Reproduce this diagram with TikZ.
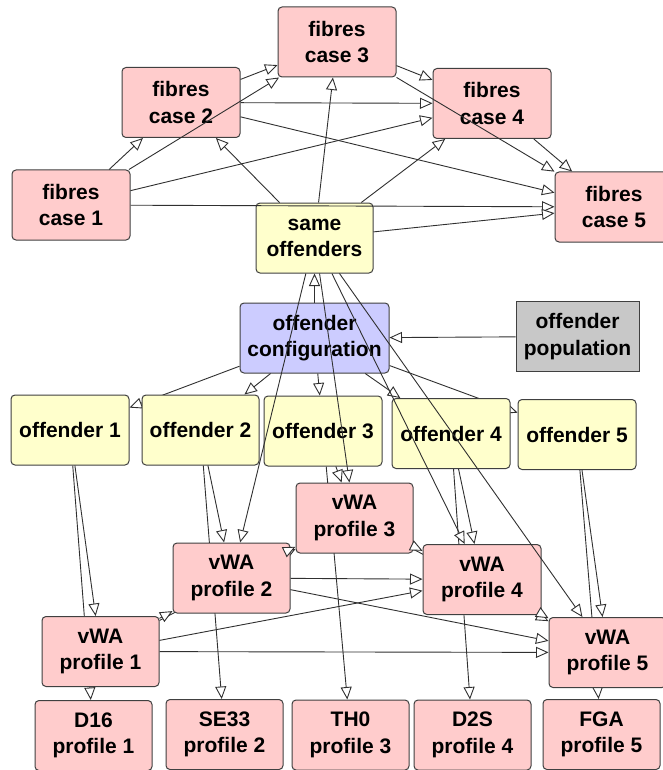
\documentclass[tikz,border=0pt]{standalone}
\usepackage{fontspec}
\setmainfont{Liberation Sans}
\usetikzlibrary{arrows.meta}
\pgfdeclarelayer{background}
\pgfsetlayers{background,main}
\definecolor{pinkfill}{HTML}{FFCCCC}
\definecolor{yellowfill}{HTML}{FFFFCC}
\definecolor{bluefill}{HTML}{CCCCFF}
\definecolor{grayfill}{HTML}{C8C8C8}
\definecolor{bordercol}{HTML}{404040}
\definecolor{edgecol}{HTML}{303030}
\begin{document}
\begin{tikzpicture}[x=1pt,y=-1pt,
  nbox/.style={draw=bordercol, line width=1pt, rounded corners=4pt,
    minimum width=117pt, minimum height=70pt, inner sep=0pt, align=center,
    font=\bfseries\fontsize{21}{26.5}\selectfont},
  pinkbox/.style={nbox, fill=pinkfill},
  yellowbox/.style={nbox, fill=yellowfill},
  bluebox/.style={nbox, fill=bluefill},
  graybox/.style={nbox, fill=grayfill, sharp corners},
  arr/.style={draw=edgecol, line width=0.9pt,
    -{Triangle[length=12.5pt,width=11pt,fill=white]}}
]
\useasboundingbox (0,0) rectangle (662,770);

% fibres
\node[pinkbox, minimum width=118pt] (c1) at (71,205) {fibres\\case 1};
\node[pinkbox, minimum width=118pt] (c2) at (181,102.5) {fibres\\case 2};
\node[pinkbox, minimum width=118pt] (c3) at (337,42) {fibres\\case 3};
\node[pinkbox, minimum width=118pt] (c4) at (492,103.5) {fibres\\case 4};
\node[pinkbox, minimum width=118pt] (c5) at (614,207) {fibres\\case 5};

% offenders
\node[yellowbox] (so) at (314.5,238) {same\\offenders};
\node[bluebox, minimum width=149pt] (oc) at (314.5,338) {offender\\configuration};
\node[graybox, minimum width=123pt] (op) at (577.5,336.5) {offender\\population};

\node[yellowbox, minimum width=118pt] (o1) at (70,430) {offender 1};
\node[yellowbox] (o2) at (200.5,430) {offender 2};
\node[yellowbox, minimum width=118pt] (o3) at (323,431) {offender 3};
\node[yellowbox, minimum width=118pt] (o4) at (451,433.5) {offender 4};
\node[yellowbox, minimum width=118pt] (o5) at (577,434.5) {offender 5};

% vWA profiles
\node[pinkbox] (v1) at (100.5,651.5) {vWA\\profile 1};
\node[pinkbox] (v2) at (231.5,578) {vWA\\profile 2};
\node[pinkbox] (v3) at (354.5,518) {vWA\\profile 3};
\node[pinkbox, minimum width=118pt] (v4) at (482,579.5) {vWA\\profile 4};
\node[pinkbox] (v5) at (607.5,652.5) {vWA\\profile 5};

% marker profiles
\node[pinkbox] (m1) at (93.5,735.5) {D16\\profile 1};
\node[pinkbox] (m2) at (224.5,734.5) {SE33\\profile 2};
\node[pinkbox] (m3) at (350.5,735) {TH0\\profile 3};
\node[pinkbox] (m4) at (472.5,735) {D2S\\profile 4};
\node[pinkbox] (m5) at (601.5,734.5) {FGA\\profile 5};

% white background and hidden edges (behind boxes)
\begin{pgfonlayer}{background}
\fill[white] (0,0) rectangle (662,770);
\draw[arr] (oc) -- (o1);
\draw[arr] (oc) -- (o5);
\draw[arr] (o1) -- (m1);
\draw[arr] (o2) -- (m2);
\draw[arr] (o3) -- (m3);
\draw[arr] (o4) -- (m4);
\draw[arr] (o5) -- (m5);
\draw[arr] (v1) -- (v3);
\draw[arr] (v3) -- (v5);
\end{pgfonlayer}

% fibres edges
\draw[arr] (c1) -- (c2);
\draw[arr] (c1) -- (c3);
\draw[arr] (c1) -- (c4);
\draw[arr] (c1) -- (c5);
\draw[arr] (c2) -- (c3);
\draw[arr] (c2) -- (c4);
\draw[arr] (c2) -- (c5);
\draw[arr] (c3) -- (c4);
\draw[arr] (c3) -- (c5);
\draw[arr] (c4) -- (c5);
\draw[arr] (so) -- (c2);
\draw[arr] (so) -- (c3);
\draw[arr] (so) -- (c4);
\draw[arr] (so) -- (c5);

% configuration edges
\draw[arr] (oc) -- (so);
\draw[arr] (op) -- (oc);
\draw[arr] (oc) -- (o2);
\draw[arr] (oc) -- (o3);
\draw[arr] (oc) -- (o4);

% same offenders to profiles
\draw[arr] (so) -- (v2);
\draw[arr] (so) -- (v3);
\draw[arr] (so) -- (v4);
\draw[arr] (so) -- (v5);

% offenders to vWA
\draw[arr] (o1) -- (v1);
\draw[arr] (o2) -- (v2);
\draw[arr] (o3) -- (v3);
\draw[arr] (o4) -- (v4);
\draw[arr] (o5) -- (v5);

% vWA edges
\draw[arr] (v1) -- (v2);
\draw[arr] (v1) -- (v4);
\draw[arr] (v1) -- (v5);
\draw[arr] (v2) -- (v3);
\draw[arr] (v2) -- (v4);
\draw[arr] (v2) -- (v5);
\draw[arr] (v3) -- (v4);
\draw[arr] (v4) -- (v5);
\end{tikzpicture}
\end{document}
